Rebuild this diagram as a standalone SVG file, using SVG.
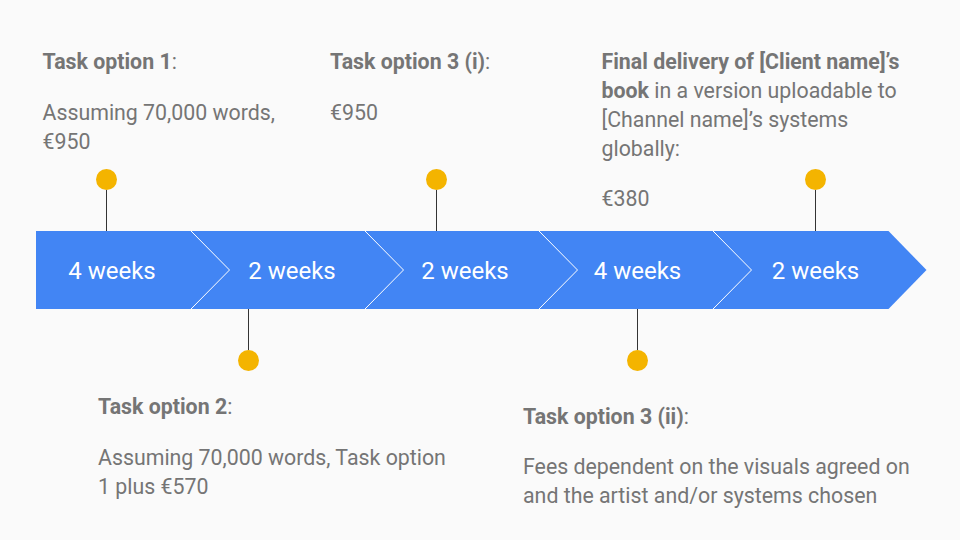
<svg xmlns="http://www.w3.org/2000/svg" width="960" height="540" viewBox="0 0 960 540">
<style>
.bg{fill:#fafafa}
.band{fill:#4285f4}
.div{fill:none;stroke:#ffffff;stroke-width:1}
.wk{font-family:Roboto,"Liberation Sans",sans-serif;font-size:24px;fill:#ffffff;text-anchor:middle}
.t{font-family:Roboto,"Liberation Sans",sans-serif;font-size:21.33px;fill:#757575}
.b{font-weight:bold}
.pin{stroke:#333333;stroke-width:1}
.dot{fill:#f4b400}
</style>
<rect class="bg" x="0" y="0" width="960" height="540"/>
<g id="timeline">
<path class="band" d="M36 231 H888.5 L926.5 270 L888.5 309 H36 Z"/>
<polyline class="div" points="191,231 229.5,270 191,309"/>
<polyline class="div" points="365,231 403.5,270 365,309"/>
<polyline class="div" points="539,231 577.5,270 539,309"/>
<polyline class="div" points="713,231 751.5,270 713,309"/>
<text class="wk" x="112" y="279">4 weeks</text>
<text class="wk" x="292" y="279">2 weeks</text>
<text class="wk" x="465" y="279">2 weeks</text>
<text class="wk" x="637.5" y="279">4 weeks</text>
<text class="wk" x="815.5" y="279">2 weeks</text>
</g>
<g id="connectors">
<line class="pin" x1="106.5" y1="190" x2="106.5" y2="231"/>
<line class="pin" x1="436.5" y1="190" x2="436.5" y2="231"/>
<line class="pin" x1="815.5" y1="190" x2="815.5" y2="231"/>
<line class="pin" x1="248.5" y1="309" x2="248.5" y2="350"/>
<line class="pin" x1="637.5" y1="309" x2="637.5" y2="350"/>
</g>
<g id="task1">
<circle class="dot" cx="106.5" cy="179.5" r="10.5"/>
<text class="t" x="42.5" y="69"><tspan class="b">Task option 1</tspan>:</text>
<text class="t" x="42.5" y="120">Assuming 70,000 words,</text>
<text class="t" x="42.5" y="149">€950</text>
</g>
<g id="task3i">
<circle class="dot" cx="436.5" cy="179.5" r="10.5"/>
<text class="t" x="330" y="69"><tspan class="b">Task option 3 (i)</tspan>:</text>
<text class="t" x="330" y="120">€950</text>
</g>
<g id="final">
<circle class="dot" cx="815.5" cy="179.5" r="10.5"/>
<text class="t" x="601.5" y="68.5"><tspan class="b">Final delivery of [Client name]’s</tspan></text>
<text class="t" x="601.5" y="97.5"><tspan class="b">book</tspan> in a version uploadable to</text>
<text class="t" x="601.5" y="126.5">[Channel name]’s systems</text>
<text class="t" x="601.5" y="155.5">globally:</text>
<text class="t" x="601.5" y="206">€380</text>
</g>
<g id="task2">
<circle class="dot" cx="248.5" cy="360.5" r="10.5"/>
<text class="t" x="98" y="414"><tspan class="b">Task option 2</tspan>:</text>
<text class="t" x="98" y="465">Assuming 70,000 words, Task option</text>
<text class="t" x="98" y="494">1 plus €570</text>
</g>
<g id="task3ii">
<circle class="dot" cx="637.5" cy="360.5" r="10.5"/>
<text class="t" x="523" y="423.5"><tspan class="b">Task option 3 (ii)</tspan>:</text>
<text class="t" x="523" y="474">Fees dependent on the visuals agreed on</text>
<text class="t" x="523" y="503">and the artist and/or systems chosen</text>
</g>
</svg>
